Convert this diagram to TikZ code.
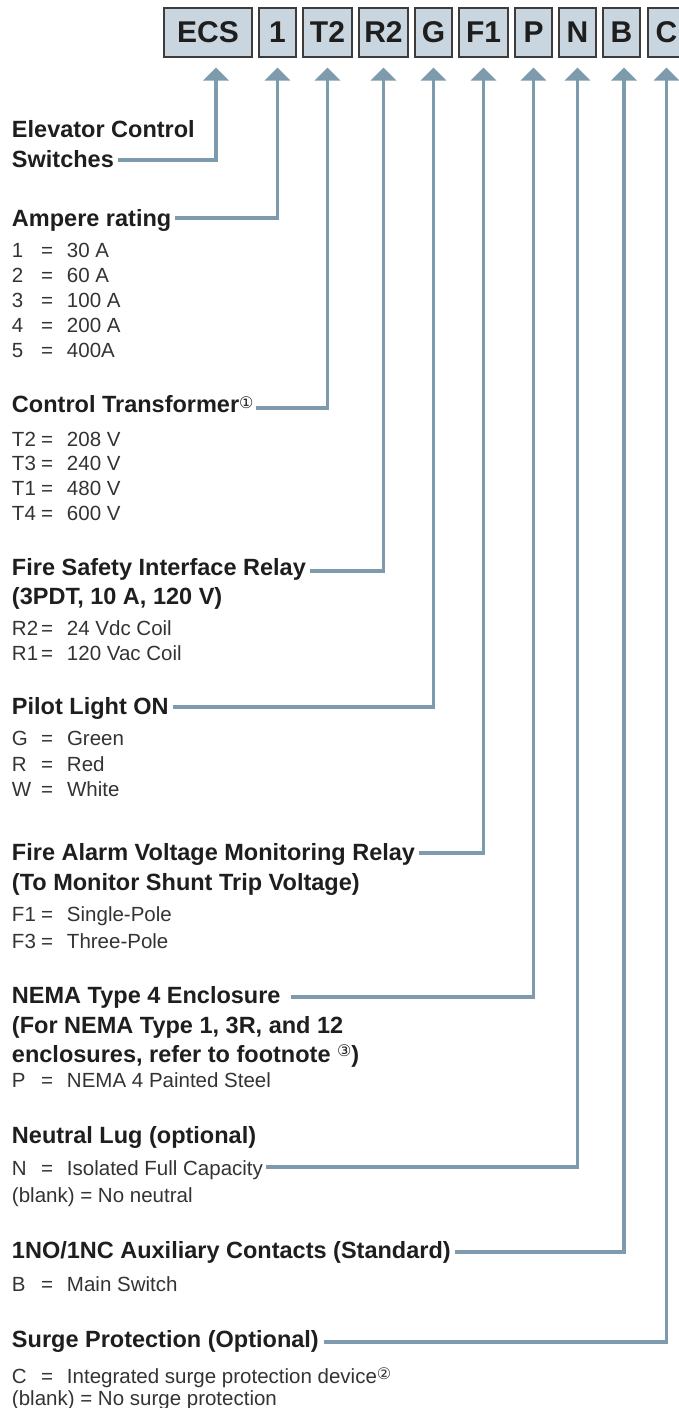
\documentclass[tikz,border=0pt]{standalone}
\usepackage{fontspec}
\setmainfont{Liberation Sans}
\newfontfamily\dejavu{DejaVu Sans}
\usetikzlibrary{arrows.meta}
\definecolor{boxfill}{HTML}{C9D6DF}
\definecolor{boxline}{HTML}{3C3C3C}
\definecolor{conn}{HTML}{7D9BAC}
\definecolor{txt}{HTML}{1E1E1E}
\definecolor{valtxt}{HTML}{333333}
\newcommand{\crow}[2]{\makebox[30pt][l]{#1}\makebox[10pt][c]{=}\hspace{15pt}#2}
\newcommand{\fnmark}[2][4pt]{\raisebox{#1}{\normalfont\dejavu\fontsize{16}{16}\selectfont #2}}
\tikzset{
  codebox/.style={draw=boxline, line width=1.2pt, fill=boxfill, minimum height=49pt,
    inner sep=0pt, font=\bfseries\fontsize{30}{30}\selectfont, text=txt},
  ttl/.style={anchor=base west, inner sep=0pt, outer sep=0pt,
    font=\bfseries\fontsize{23.5}{28}\selectfont, text=txt},
  val/.style={anchor=base west, inner sep=0pt, outer sep=0pt,
    font=\fontsize{20.5}{24}\selectfont, text=valtxt},
  link/.style={draw=conn, line width=3.8pt, line join=miter,
    -{Triangle[width=25pt,length=13pt]}}
}
\begin{document}
\begin{tikzpicture}[x=1pt,y=-1pt]
\useasboundingbox (0,0) rectangle (678,1408);
% code boxes
\node[codebox, minimum width=88pt] (ecs) at (208,32.5) {ECS};
\node[codebox, minimum width=37pt] (one) at (277.5,32.5) {1};
\node[codebox, minimum width=49pt] (tt) at (327.5,32.5) {T2};
\node[codebox, minimum width=49pt] (rr) at (383.5,32.5) {R2};
\node[codebox, minimum width=37pt] (gg) at (433.5,32.5) {G};
\node[codebox, minimum width=49pt] (ff) at (483.5,32.5) {F1};
\node[codebox, minimum width=37pt] (pp) at (533.5,32.5) {P};
\node[codebox, minimum width=37pt] (nn) at (577.5,32.5) {N};
\node[codebox, minimum width=37pt] (bb) at (621.5,32.5) {B};
\node[codebox, minimum width=37pt] (cc) at (666.5,32.5) {C};

% Elevator Control Switches
\node[ttl] (t1a) at (12,137) {Elevator Control};
\node[ttl] (t1b) at (12,167) {Switches};
\draw[link] ([shift={(4,-7)}]t1b.base east) -| ([xshift=8pt,yshift=-10pt]ecs.south);

% Ampere rating
\node[ttl] (t2) at (12,226) {Ampere rating};
\draw[link] ([shift={(4,-8)}]t2.base east) -| ([yshift=-10pt]one.south);
\node[val] (v21) at (12,257) {\crow{1}{30 A}};
\node[val] (v22) at (12,282) {\crow{2}{60 A}};
\node[val] (v23) at (12,307) {\crow{3}{100 A}};
\node[val] (v24) at (12,332) {\crow{4}{200 A}};
\node[val] (v25) at (12,357) {\crow{5}{400A}};

% Control Transformer
\node[ttl] (t3) at (12,412) {Control Transformer\fnmark[4pt]{①}};
\draw[link] ([shift={(2,-4)}]t3.base east) -| ([yshift=-10pt]tt.south);
\node[val] (v31) at (12,446) {\crow{T2}{208 V}};
\node[val] (v32) at (12,470) {\crow{T3}{240 V}};
\node[val] (v33) at (12,495) {\crow{T1}{480 V}};
\node[val] (v34) at (12,520) {\crow{T4}{600 V}};

% Fire Safety Interface Relay
\node[ttl] (t4a) at (12,575) {Fire Safety Interface Relay};
\node[ttl] (t4b) at (12,604) {(3PDT, 10 A, 120 V)};
\draw[link] ([shift={(4,-4)}]t4a.base east) -| ([yshift=-10pt]rr.south);
\node[val] (v41) at (12,635) {\crow{R2}{24 Vdc Coil}};
\node[val] (v42) at (12,660) {\crow{R1}{120 Vac Coil}};

% Pilot Light ON
\node[ttl] (t5) at (12,714) {Pilot Light ON};
\draw[link] ([shift={(4,-7)}]t5.base east) -| ([yshift=-10pt]gg.south);
\node[val] (v51) at (12,745) {\crow{G}{Green}};
\node[val] (v52) at (12,771) {\crow{R}{Red}};
\node[val] (v53) at (12,796) {\crow{W}{White}};

% Fire Alarm Voltage Monitoring Relay
\node[ttl] (t6a) at (12,860) {Fire Alarm Voltage Monitoring Relay};
\node[ttl] (t6b) at (12,890) {(To Monitor Shunt Trip Voltage)};
\draw[link] ([shift={(4,-7)}]t6a.base east) -| ([yshift=-10pt]ff.south);
\node[val] (v61) at (12,921) {\crow{F1}{Single-Pole}};
\node[val] (v62) at (12,948) {\crow{F3}{Three-Pole}};

% NEMA Type 4 Enclosure
\node[ttl] (t7a) at (12,1003) {NEMA Type 4 Enclosure};
\node[ttl] (t7b) at (12,1033) {(For NEMA Type 1, 3R, and 12};
\node[ttl] (t7c) at (12,1062) {enclosures, refer to footnote \fnmark[6pt]{③})};
\draw[link] ([shift={(10,-6)}]t7a.base east) -| ([yshift=-10pt]pp.south);
\node[val] (v71) at (12,1087) {\crow{P}{NEMA 4 Painted Steel}};

% Neutral Lug
\node[ttl] (t8) at (12,1143) {Neutral Lug (optional)};
\node[val] (v81) at (12,1175) {\crow{N}{Isolated Full Capacity}};
\draw[link] ([shift={(3,-8)}]v81.base east) -| ([yshift=-10pt]nn.south);
\node[val] (v82) at (12,1202) {(blank) = No neutral};

% Auxiliary contacts
\node[ttl] (t9) at (12,1258) {1NO/1NC Auxiliary Contacts (Standard)};
\draw[link] ([shift={(4,-6)}]t9.base east) -| ([xshift=2.5pt,yshift=-10pt]bb.south);
\node[val] (v91) at (12,1291) {\crow{B}{Main Switch}};

% Surge Protection
\node[ttl] (t10) at (12,1347) {Surge Protection (Optional)};
\draw[link] ([shift={(5,-5)}]t10.base east) -| ([yshift=-10pt]cc.south);
\node[val] (v101) at (12,1383) {\crow{C}{Integrated surge protection device\fnmark[4pt]{②}}};
\node[val] (v102) at (12,1405) {(blank) = No surge protection};
\end{tikzpicture}
\end{document}
